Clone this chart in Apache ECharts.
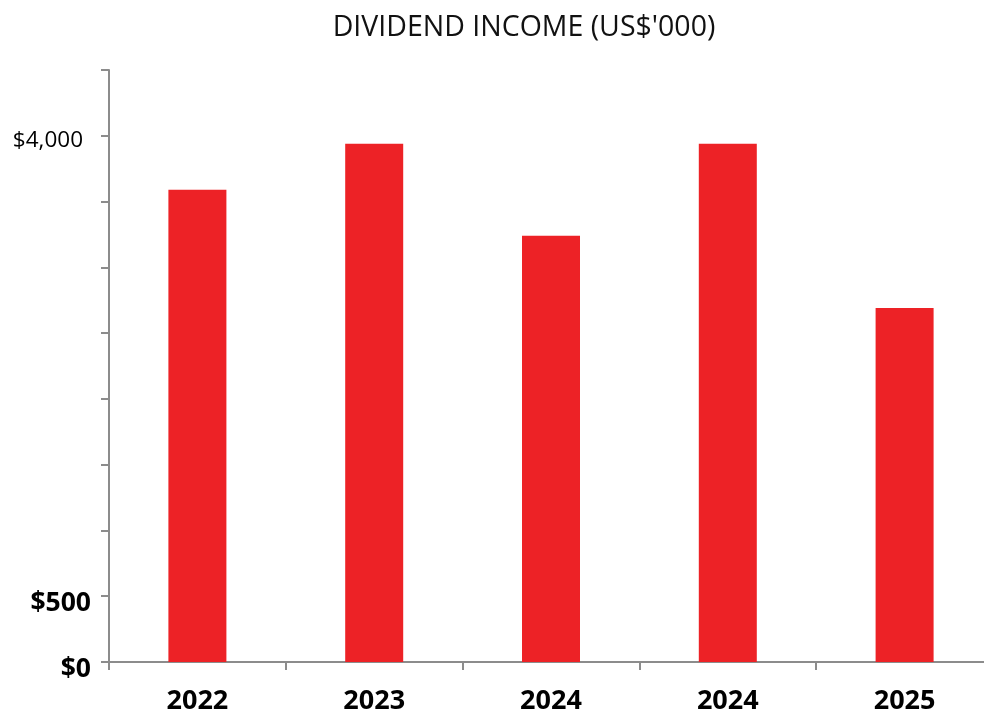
<!DOCTYPE html>
<html>
<head>
<meta charset="utf-8">
<script src="https://cdn.jsdelivr.net/npm/echarts@6/dist/echarts.min.js"></script>
<style>html,body{margin:0;padding:0;background:#fff;overflow:hidden;width:984px;height:715px;}#c{width:1000px;height:715px;}</style>
</head>
<body>
<div id="c"></div>
<script>
const titleText = "DIVIDEND INCOME (US$'000)";
const categories = ['2022', '2023', '2024', '2024', '2025'];
const dividendValues = [3590, 3940, 3240, 3940, 2690];
const shownTicks = [0, 500, 4000];

const chart = echarts.init(document.getElementById('c'), null, {renderer: 'canvas'});
const axisGray = '#8c8c8c';
chart.setOption({
  animation: false,
  backgroundColor: '#ffffff',
  graphic: [{
    type: 'text', x: 524, y: 28,
    style: {text: titleText, font: '28.5px "Open Sans"', fill: '#111', textAlign: 'center', textVerticalAlign: 'middle'}
  }],
  grid: {left: 109, right: 7, top: 70, bottom: 51, containLabel: false},
  xAxis: {
    type: 'category',
    data: categories,
    axisLine: {lineStyle: {color: axisGray, width: 2}},
    axisTick: {show: true, length: 8, lineStyle: {color: axisGray, width: 2}},
    axisLabel: {margin: 26, color: '#000', fontFamily: 'Open Sans', fontWeight: 'bold', fontSize: 27}
  },
  yAxis: {
    type: 'value', min: 0, max: 4500, interval: 500,
    splitLine: {show: false},
    axisLine: {show: true, lineStyle: {color: axisGray, width: 2}},
    axisTick: {show: true, length: 8, lineStyle: {color: axisGray, width: 2}},
    axisLabel: {
      margin: 18, color: '#000',
      formatter: function (v) {
        if (!shownTicks.includes(v)) return '';
        if (v >= 1000) return '{r|$' + v.toLocaleString('en-US') + '}';
        return '{b|$' + v + '}';
      },
      rich: {
        r: {fontFamily: 'Open Sans', fontSize: 22.5, color: '#000', padding: [9, 8, 0, 0]},
        b: {fontFamily: 'Open Sans', fontWeight: 'bold', fontSize: 26.5, color: '#000', padding: [14, 0, 0, 0]}
      }
    }
  },
  series: [{
    type: 'bar',
    data: dividendValues,
    barWidth: 58,
    itemStyle: {color: '#ed2226'}
  }]
});
</script>
</body>
</html>
